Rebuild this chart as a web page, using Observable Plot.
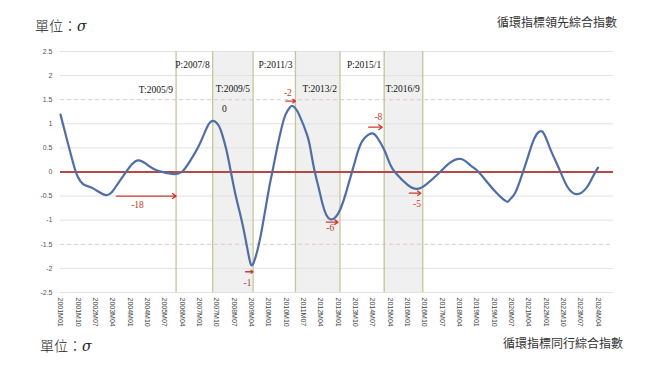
<!DOCTYPE html>
<html><head><meta charset="utf-8">
<script src="https://cdn.jsdelivr.net/npm/d3@7"></script>
<script src="https://cdn.jsdelivr.net/npm/@observablehq/plot@0.6"></script>
<style>
body{margin:0;background:#fff;}
#wrap{width:656px;}
.hdr,.ftr{position:relative;height:40px;}
.t{position:absolute;white-space:nowrap;color:#222;}
.unit{font-family:'Noto Sans CJK TC';font-size:14px;line-height:14px;font-weight:300;}
.unit i{font-family:'DejaVu Serif';font-size:14px;}
.name{font-family:'Noto Sans CJK TC';font-size:12px;line-height:12px;color:#333;}
svg{display:block;}
</style></head><body>
<div id="wrap">
<div class="hdr">
<div class="t unit" style="left:35px;top:18px;">單位：<i>σ</i></div>
<div class="t name" style="right:39px;top:16px;">循環指標領先綜合指數</div>
</div>
<div id="chart"></div>
<div class="ftr">
<div class="t unit" style="left:40px;top:8px;">單位：<i>σ</i></div>
<div class="t name" style="right:33px;top:7px;">循環指標同行綜合指數</div>
</div>
</div>
<script>
// ---- data ----
const months = ["2001-01","2001-05","2001-08","2001-10","2002-01","2002-06","2003-01","2003-06","2003-11","2004-05","2004-11","2005-04","2005-11","2006-04","2006-08","2007-01","2007-05","2007-08","2007-11","2008-01","2008-03","2008-05","2008-08","2008-11","2009-02","2009-04","2009-06","2009-09","2010-01","2010-03","2010-06","2010-09","2010-11","2011-01","2011-03","2011-05","2011-09","2011-11","2012-01","2012-03","2012-05","2012-07","2012-09","2012-11","2013-01","2013-03","2013-05","2013-07","2013-09","2013-12","2014-03","2014-07","2014-10","2015-01","2015-04","2015-07","2016-01","2016-06","2016-11","2017-06","2017-11","2018-05","2018-10","2019-02","2019-09","2020-04","2020-06","2020-09","2021-01","2021-04","2021-07","2021-11","2022-03","2022-08","2022-12","2023-05","2023-10","2024-01","2024-04"];
const values = [1.19,0.58,0.13,-0.1,-0.26,-0.34,-0.48,-0.29,0.0,0.24,0.12,0.02,-0.04,0.0,0.21,0.56,0.92,1.06,0.97,0.77,0.48,0.1,-0.5,-1.0,-1.6,-1.93,-1.8,-1.3,-0.39,0.0,0.6,1.1,1.28,1.37,1.32,1.18,0.77,0.42,0.0,-0.32,-0.66,-0.89,-0.98,-0.96,-0.87,-0.7,-0.46,-0.18,0.1,0.5,0.71,0.80,0.68,0.46,0.17,-0.02,-0.26,-0.35,-0.25,0.0,0.19,0.27,0.13,0.0,-0.33,-0.6,-0.58,-0.43,0.0,0.36,0.7,0.84,0.5,0.05,-0.3,-0.46,-0.33,-0.12,0.09];

const xTickLabels = ["2001M01","2001M10","2002M07","2003M04","2004M01","2004M10","2005M07","2006M04","2007M01","2007M10","2008M07","2009M04","2010M01","2010M10","2011M07","2012M04","2013M01","2013M10","2014M07","2015M04","2016M01","2016M10","2017M07","2018M04","2019M01","2019M10","2020M07","2021M04","2022M01","2022M10","2023M07","2024M04"];
const yTicks = [-2.5,-2,-1.5,-1,-0.5,0,0.5,1,1.5,2,2.5];

const cycleLines = ["2006-01","2007-08","2009-05","2011-03","2013-02","2015-01","2016-09"];
const cycleLabels = ["T:2005/9","P:2007/8","T:2009/5","P:2011/3","T:2013/2","P:2015/1","T:2016/9"];
const cycleLabelY = [1.70,2.22,1.72,2.22,1.72,2.22,1.72];
const shadeStart = ["2007-08","2011-03","2015-01"];
const shadeEnd = ["2009-05","2013-02","2016-09"];

const arrowFrom = ["2003-06","2010-10","2012-07","2009-01","2014-05","2016-02"];
const arrowTo   = ["2006-01","2011-03","2013-01","2009-05","2014-12","2016-08"];
const arrowY    = [-0.5,1.47,-1.04,-2.07,0.93,-0.44];
const lagText   = ["-18","-2","-6","-1","-8","-5"];
const lagTextX  = ["2004-05","2010-11","2012-09","2009-02","2014-10","2016-06"];
const lagTextY  = [-0.69,1.63,-1.17,-2.3,1.14,-0.67];

const zeroNote = ["0"], zeroNoteX = ["2008-02"], zeroNoteY = [1.31];

// ---- build ----
const P = d3.utcParse("%Y-%m");
const series = months.map((m,i)=>({date:P(m), v:values[i]}));
const tickDates = xTickLabels.map(s=>P(s.replace("M","-")));
const lines = cycleLines.map((m,i)=>({date:P(m), label:cycleLabels[i], y:cycleLabelY[i]}));
const shades = shadeStart.map((s,i)=>({x1:P(s), x2:P(shadeEnd[i])}));
const arrows = arrowFrom.map((s,i)=>({x1:P(s), x2:P(arrowTo[i]), y:arrowY[i], t:lagText[i], tx:P(lagTextX[i]), ty:lagTextY[i]}));
const notes = zeroNote.map((t,i)=>({t, x:P(zeroNoteX[i]), y:zeroNoteY[i]}));
const fmtMap = new Map(tickDates.map((d,i)=>[+d, xTickLabels[i]]));

const chart = Plot.plot({
  width: 656, height: 290,
  marginLeft: 60, marginRight: 43, marginTop: 11, marginBottom: 38,
  style: {fontFamily: "'Liberation Sans', sans-serif", fontSize: "7px", background: "#fff"},
  x: {type: "utc", domain: [P("2001-01"), P("2024-12")]},
  y: {domain: [-2.5, 2.5]},
  marks: [
    Plot.rectX(shades, {x1: "x1", x2: "x2", fill: "#f0f0f0"}),
    Plot.ruleY(yTicks.filter(v => Math.abs(v) !== 1.5 && v !== 0), {stroke: "#e2e2e2", strokeWidth: 1}),
    Plot.ruleY(yTicks.filter(v => Math.abs(v) === 1.5), {stroke: "#dccaca", strokeWidth: 1, strokeDasharray: "4,3"}),
    Plot.ruleX(lines, {x: "date", stroke: "#c6c49a", strokeWidth: 1.3}),
    Plot.ruleY([0], {stroke: "#b84845", strokeWidth: 2}),
    Plot.line(series, {x: "date", y: "v", curve: "natural", stroke: "#4f6ea6", strokeWidth: 2.2}),
    Plot.arrow(arrows, {x1: "x1", x2: "x2", y1: "y", y2: "y", stroke: "#d03a35", strokeWidth: 1.3, headLength: 5, headAngle: 70}),
    Plot.text(arrows, {x: "tx", y: "ty", text: "t", fill: "#c0392b", fontFamily: "'Liberation Serif', serif", fontSize: 9.5}),
    Plot.text(lines, {x: "date", y: "y", text: "label", textAnchor: "end", dx: -3, fill: "#111", fontFamily: "'Liberation Serif', serif", fontSize: 9.5}),
    Plot.text(notes, {x: "x", y: "y", text: "t", fill: "#111", fontFamily: "'Liberation Serif', serif", fontSize: 9.5}),
    Plot.axisY({ticks: yTicks, tickSize: 0, tickPadding: 8, tickFormat: d => String(d), fill: "#555", fontSize: 7}),
    Plot.axisX({ticks: tickDates, tickSize: 0, tickPadding: 5, tickRotate: 90, tickFormat: d => fmtMap.get(+d), fill: "#444", fontSize: 7, label: null})
  ]
});
document.getElementById("chart").appendChild(chart);
</script>
</body></html>
